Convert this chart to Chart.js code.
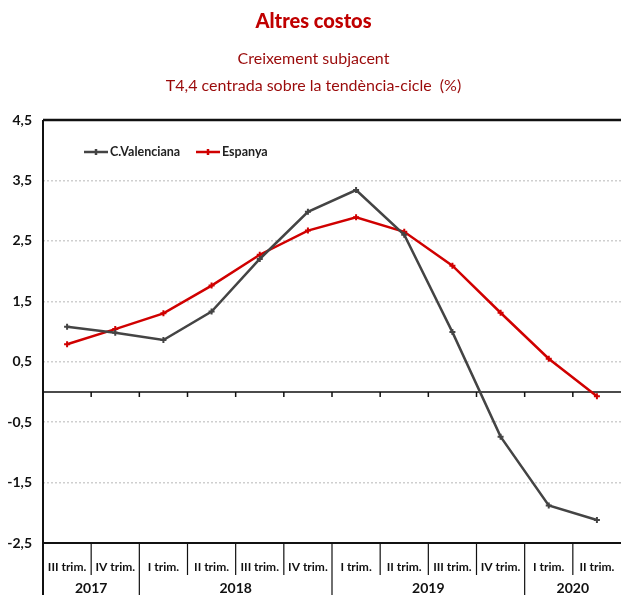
<!DOCTYPE html>
<html>
<head>
<meta charset="utf-8">
<script src="https://cdn.jsdelivr.net/npm/chart.js@4.4.1/dist/chart.umd.min.js"></script>
<style>
  html, body { margin: 0; padding: 0; background: #fff; }
  #wrap { width: 627px; height: 595px; }
</style>
</head>
<body>
<div id="wrap"><canvas id="altresCostos"></canvas></div>
<script>
// Dades: trimestres i anys
const trimestres = ['III trim.', 'IV trim.', 'I trim.', 'II trim.', 'III trim.', 'IV trim.',
                    'I trim.', 'II trim.', 'III trim.', 'IV trim.', 'I trim.', 'II trim.'];
const anys = ['2017', '2018', '2019', '2020'];
const trimestresPerAny = [2, 4, 4, 2];

const cValenciana = [1.08, 0.98, 0.86, 1.33, 2.20, 2.98, 3.34, 2.60, 0.99, -0.74, -1.88, -2.12];
const espanya     = [0.79, 1.04, 1.30, 1.76, 2.27, 2.67, 2.89, 2.65, 2.09, 1.31, 0.55, -0.07];

const yMin = -2.5, yMax = 4.5, yPas = 1;

const font = 'Lato, "Open Sans", sans-serif';

// Eixos: marc negre, línia del zero i taula d'etiquetes
const marcPlugin = {
  id: 'marc',
  beforeDatasetsDraw(chart) {
    const { ctx, chartArea: a, scales: { x, y } } = chart;
    const n = trimestres.length;
    const limit = i => (x.getPixelForValue(i - 1) + x.getPixelForValue(i)) / 2;
    const baix = chart.height;
    ctx.save();
    ctx.strokeStyle = '#111';

    // vora superior
    ctx.lineWidth = 2.5;
    ctx.beginPath();
    ctx.moveTo(a.left, y.getPixelForValue(yMax));
    ctx.lineTo(a.right, y.getPixelForValue(yMax));
    ctx.stroke();

    // vora inferior i eix vertical
    ctx.lineWidth = 2;
    ctx.beginPath();
    ctx.moveTo(a.left, a.bottom);
    ctx.lineTo(a.right, a.bottom);
    ctx.moveTo(a.left, a.top);
    ctx.lineTo(a.left, baix);
    ctx.stroke();

    // línia del zero amb marques
    const y0 = y.getPixelForValue(0);
    ctx.lineWidth = 1.5;
    ctx.beginPath();
    ctx.moveTo(a.left, y0);
    ctx.lineTo(a.right, y0);
    for (let i = 1; i < n; i++) {
      ctx.moveTo(limit(i), y0);
      ctx.lineTo(limit(i), y0 + 5);
    }
    ctx.stroke();

    // separadors de la taula
    const limitsAny = [];
    let acc = 0;
    trimestresPerAny.forEach(k => { acc += k; limitsAny.push(acc); });
    ctx.lineWidth = 1.2;
    ctx.beginPath();
    for (let i = 1; i < n; i++) {
      const bx = limit(i);
      ctx.moveTo(bx, a.bottom);
      ctx.lineTo(bx, limitsAny.includes(i) ? baix : a.bottom + 32);
    }
    ctx.stroke();

    // anys
    ctx.fillStyle = '#111';
    ctx.font = 'bold 14px ' + font;
    ctx.textAlign = 'center';
    ctx.textBaseline = 'middle';
    let ini = 0;
    anys.forEach((any, k) => {
      const fi = ini + trimestresPerAny[k] - 1;
      const cx = (x.getPixelForValue(ini) + x.getPixelForValue(fi)) / 2;
      ctx.fillText(any, cx, a.bottom + 45);
      ini = fi + 1;
    });

    // títols
    const cx = chart.width / 2;
    ctx.fillStyle = '#c00000';
    ctx.font = '900 20px ' + font;
    ctx.fillText('Altres costos', cx, 22);
    ctx.fillStyle = '#9a0a0a';
    ctx.font = '16px ' + font;
    ctx.fillText('Creixement subjacent', cx, 59);
    ctx.fillText('T4,4 centrada sobre la tendència-cicle  (%)', cx, 86);

    // llegenda dins l'àrea del gràfic
    const ly = a.top + 32;
    const lx = [a.left + 41, a.left + 153];
    ctx.font = 'bold 12.5px ' + font;
    ctx.textAlign = 'left';
    chart.data.datasets.forEach((ds, k) => {
      ctx.strokeStyle = ds.borderColor;
      ctx.lineWidth = 2.5;
      ctx.beginPath();
      ctx.moveTo(lx[k], ly);
      ctx.lineTo(lx[k] + 24, ly);
      ctx.moveTo(lx[k] + 12, ly - 3);
      ctx.lineTo(lx[k] + 12, ly + 3);
      ctx.stroke();
      ctx.fillStyle = '#222';
      ctx.fillText(ds.label, lx[k] + 26, ly);
    });
    ctx.restore();
  }
};

new Chart(document.getElementById('altresCostos'), {
  type: 'line',
  data: {
    labels: trimestres,
    datasets: [{
      label: 'C.Valenciana',
      data: cValenciana,
      borderColor: '#444444',
      backgroundColor: '#444444',
      borderWidth: 2.5,
      pointStyle: 'cross',
      pointRadius: 3,
      pointBorderWidth: 2
    }, {
      label: 'Espanya',
      data: espanya,
      borderColor: '#d00000',
      backgroundColor: '#d00000',
      borderWidth: 2.5,
      pointStyle: 'cross',
      pointRadius: 3,
      pointBorderWidth: 2
    }]
  },
  options: {
    responsive: true,
    maintainAspectRatio: false,
    animation: false,
    layout: { padding: { left: 0, right: 0, top: 120, bottom: 0 } },
    plugins: {
      legend: { display: false },
      tooltip: { enabled: false }
    },
    scales: {
      x: {
        offset: true,
        grid: { display: false },
        border: { display: false },
        ticks: {
          color: '#111',
          font: { family: font, size: 12, weight: 'bold' },
          maxRotation: 0,
          autoSkip: false,
          padding: 9
        },
        afterFit(scale) { scale.height = 52; }
      },
      y: {
        min: yMin,
        max: yMax,
        grid: { color: '#cfcfcf', lineWidth: 1.5, drawTicks: false },
        border: { display: false, dash: [2, 2] },
        ticks: {
          stepSize: yPas,
          color: '#111',
          font: { family: font, size: 14, weight: 'bold' },
          padding: 11,
          callback: v => v.toFixed(1).replace('.', ',')
        },
        afterFit(scale) { scale.width = 43; }
      }
    }
  },
  plugins: [marcPlugin]
});
</script>
</body>
</html>
